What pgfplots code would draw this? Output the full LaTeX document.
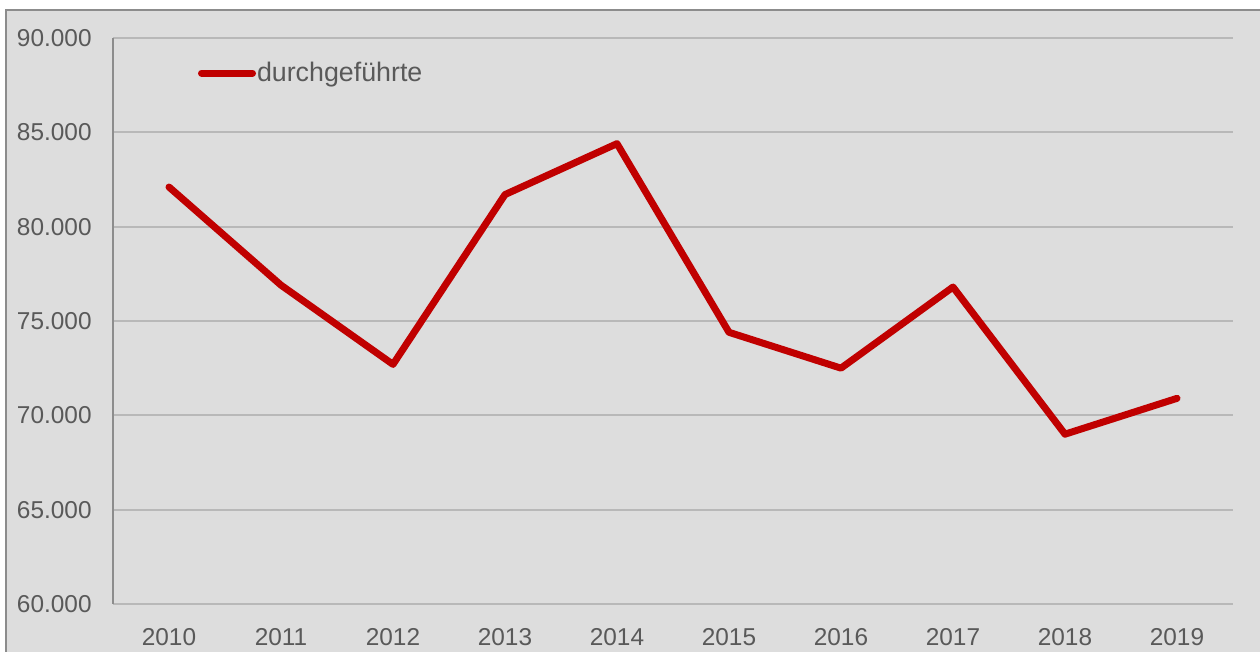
\documentclass[border=0pt]{standalone}
\usepackage{pgfplots}
\pgfplotsset{compat=1.18}
\usepackage{fontspec}
\setmainfont{Liberation Sans}
\definecolor{bg}{HTML}{DDDDDD}
\definecolor{framec}{HTML}{8C8C8C}
\definecolor{gridc}{HTML}{B8B8B8}
\definecolor{leftc}{HTML}{8C8C8C}
\definecolor{txt}{HTML}{595959}
\definecolor{redline}{HTML}{C00000}
\begin{document}
\begin{tikzpicture}
\useasboundingbox (0pt,0pt) rectangle (630pt,326pt);
\begin{scope}
\clip (0pt,0pt) rectangle (630pt,326pt);
\fill[bg] (3pt,-10pt) rectangle (640pt,321pt);
\draw[framec, line width=1.1pt] (3pt,-10pt) -- (3pt,321pt) -- (640pt,321pt);
\end{scope}
\begin{axis}[
  at={(56.5pt,24pt)}, anchor=south west,
  scale only axis, width=560pt, height=283pt,
  xmin=-0.5, xmax=9.5, ymin=60000, ymax=90000,
  ytick={60000,65000,...,90000},
  xtick={0,...,9},
  xticklabels={2010,2011,2012,2013,2014,2015,2016,2017,2018,2019},
  axis lines*=left,
  x axis line style={gridc, line width=1pt},
  y axis line style={leftc, line width=1pt},
  ymajorgrids,
  major grid style={gridc, line width=1pt},
  tick style={draw=none}, major tick length=0pt,
  font=\fontsize{12.2}{14}\selectfont,
  tick label style={txt},
  /pgf/number format/.cd, fixed, 1000 sep={.}, assume math mode=true,
  /pgfplots/.cd,
  yticklabel style={anchor=east, inner sep=0pt, xshift=-10.5pt},
  xticklabel style={anchor=north, inner sep=0pt, yshift=-12pt},
  scaled y ticks=false,
  legend style={at={(0.0759,0.938)}, anchor=west, draw=none, fill=none, inner sep=0pt, outer sep=0pt, font=\fontsize{13.4}{15}\selectfont\color{txt}, nodes={inner sep=0.5pt}},
  legend image code/.code={\draw[#1, line cap=round] (0pt,0pt) -- (25.5pt,0pt);},
  clip=false,
]
\addplot[redline, line width=3.5pt, line join=round, line cap=round] coordinates {
(0,82100) (1,76900) (2,72700) (3,81700) (4,84400) (5,74400) (6,72500) (7,76800) (8,69000) (9,70900)
};
\addlegendentry{durchgeführte}
\end{axis}
\end{tikzpicture}
\end{document}
